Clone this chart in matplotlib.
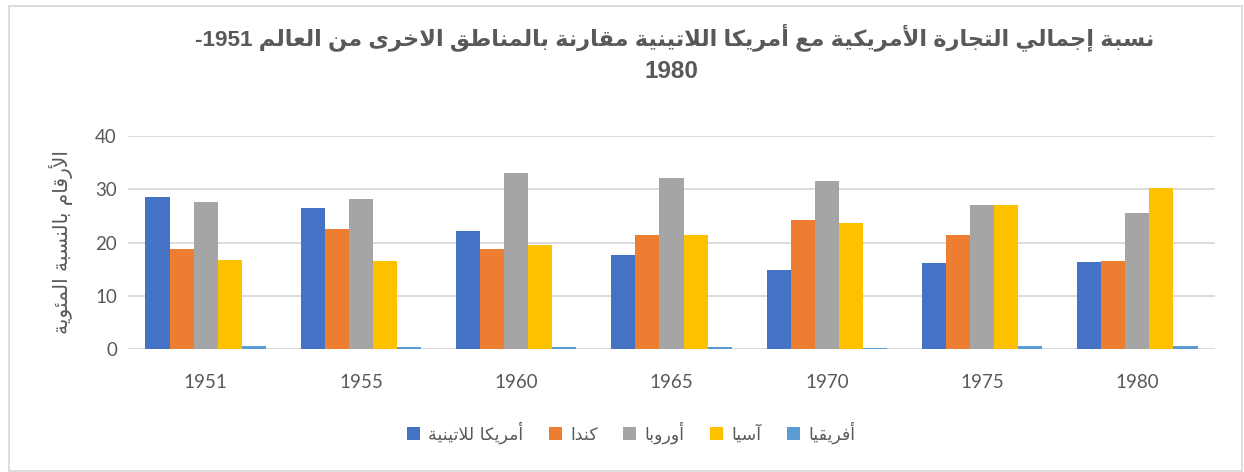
#!/usr/bin/env python3
import re
import matplotlib
matplotlib.use("Agg")
import matplotlib.pyplot as plt
import numpy as np
from matplotlib.patches import Rectangle

years = ["1951", "1955", "1960", "1965", "1970", "1975", "1980"]
latin_america = [28.5, 26.5, 22.2, 17.7, 14.8, 16.1, 16.3]
canada = [18.8, 22.5, 18.8, 21.4, 24.2, 21.4, 16.6]
europe = [27.6, 28.2, 33.0, 32.1, 31.5, 27.0, 25.5]
asia = [16.7, 16.5, 19.5, 21.5, 23.7, 27.0, 30.3]
africa = [0.5, 0.4, 0.3, 0.3, 0.2, 0.6, 0.5]

series_names = ["أمريكا للاتينية", "كندا", "أوروبا", "آسيا", "أفريقيا"]
title_text = "نسبة إجمالي التجارة الأمريكية مع أمريكا اللاتينية مقارنة بالمناطق الاخرى من العالم 1951-"
title_line2 = "1980"
ylabel_text = "الأرقام بالنسبة المئوية"

COLORS = ["#4472C4", "#ED7D31", "#A5A5A5", "#FFC000", "#5B9BD5"]
TEXT = "#595959"

# arabic presentation forms: (first code point, number of forms)
FORMS = {
    "ء": (0xFE80, 1), "آ": (0xFE81, 2), "أ": (0xFE83, 2), "ؤ": (0xFE85, 2),
    "إ": (0xFE87, 2), "ئ": (0xFE89, 4), "ا": (0xFE8D, 2), "ب": (0xFE8F, 4),
    "ة": (0xFE93, 2), "ت": (0xFE95, 4), "ث": (0xFE99, 4), "ج": (0xFE9D, 4),
    "ح": (0xFEA1, 4), "خ": (0xFEA5, 4), "د": (0xFEA9, 2), "ذ": (0xFEAB, 2),
    "ر": (0xFEAD, 2), "ز": (0xFEAF, 2), "س": (0xFEB1, 4), "ش": (0xFEB5, 4),
    "ص": (0xFEB9, 4), "ض": (0xFEBD, 4), "ط": (0xFEC1, 4), "ظ": (0xFEC5, 4),
    "ع": (0xFEC9, 4), "غ": (0xFECD, 4), "ف": (0xFED1, 4), "ق": (0xFED5, 4),
    "ك": (0xFED9, 4), "ل": (0xFEDD, 4), "م": (0xFEE1, 4), "ن": (0xFEE5, 4),
    "ه": (0xFEE9, 4), "و": (0xFEED, 2), "ى": (0xFEEF, 2), "ي": (0xFEF1, 4),
}
LAM_ALEF = {"آ": 0xFEF5, "أ": 0xFEF7, "إ": 0xFEF9, "ا": 0xFEFB}


def shape(text):
    out = []
    i = 0
    n = len(text)
    while i < n:
        c = text[i]
        prev = text[i - 1] if i > 0 else ""
        prev_joins = prev in FORMS and FORMS[prev][1] == 4
        if c == "ل" and i + 1 < n and text[i + 1] in LAM_ALEF:
            out.append(chr(LAM_ALEF[text[i + 1]] + (1 if prev_joins else 0)))
            i += 2
            continue
        if c in FORMS:
            base, nf = FORMS[c]
            nxt = text[i + 1] if i + 1 < n else ""
            next_joins = nf == 4 and nxt in FORMS and nxt != "ء"
            if nf == 1:
                form = 0
            elif prev_joins and next_joins:
                form = 3
            elif prev_joins:
                form = 1
            elif next_joins:
                form = 2
            else:
                form = 0
            out.append(chr(base + form))
        else:
            out.append(c)
        i += 1
    return "".join(out)


def visual(text):
    s = shape(text)[::-1]
    return re.sub(r"[0-9]+", lambda m: m.group()[::-1], s)


plt.rcParams["font.family"] = ["Lato", "DejaVu Sans"]

fig = plt.figure(figsize=(12.44, 4.72), dpi=100)
ax = fig.add_axes([128 / 1244, 1 - 349 / 472, (1215 - 128) / 1244, (349 - 136) / 472])

x = np.arange(len(years))
width = 0.155
data = [latin_america, canada, europe, asia, africa]
for k, vals in enumerate(data):
    ax.bar(x + (k - 2) * width, vals, width, color=COLORS[k],
           label=visual(series_names[k]), zorder=3)

ax.set_xlim(-0.5, len(years) - 0.5)
ax.set_ylim(0, 40)
ax.set_yticks([0, 10, 20, 30, 40])
ax.set_xticks(x)
ax.set_xticklabels(years)
ax.grid(axis="y", color="#D9D9D9", linewidth=1.3, zorder=0)
for sp in ax.spines.values():
    sp.set_visible(False)
ax.tick_params(axis="both", length=0, labelsize=13.5, labelcolor=TEXT)
ax.tick_params(axis="x", pad=18)
ax.tick_params(axis="y", pad=8)
ax.set_ylabel(visual(ylabel_text), fontsize=14.5, color=TEXT, labelpad=16,
              family=["DejaVu Sans"])

fig.text(675 / 1244, 1 - 37 / 472, visual(title_text), ha="center", va="center",
         fontsize=16.2, fontweight="bold", color=TEXT,
         family=["Liberation Sans", "DejaVu Sans"])
fig.text(671 / 1244, 1 - 72 / 472, title_line2, ha="center", va="center",
         fontsize=17.5, fontweight="bold", color=TEXT,
         family=["Liberation Sans", "DejaVu Sans"])

fig.legend(loc="center", bbox_to_anchor=(631 / 1244, 1 - 433 / 472), ncol=5,
           frameon=False, labelcolor=TEXT, handlelength=0.75,
           handleheight=0.75, handletextpad=0.5, columnspacing=1.45,
           prop={"family": ["DejaVu Sans"], "size": 12.5})

fig.patches.append(Rectangle((9 / 1244, 1 / 472), 1233 / 1244, 465 / 472,
                             transform=fig.transFigure, fill=False,
                             edgecolor="#D9D9D9", linewidth=1.3))

fig.savefig("out.png", dpi=100)
